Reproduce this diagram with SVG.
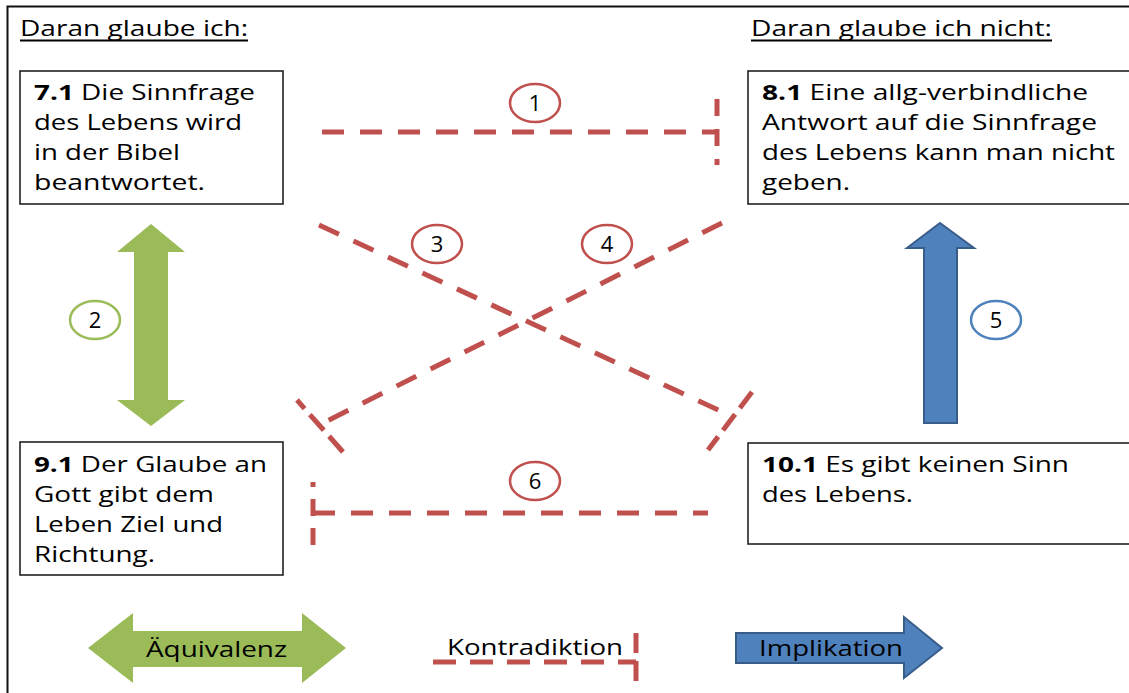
<svg xmlns="http://www.w3.org/2000/svg" width="1129" height="693" viewBox="0 0 1129 693">
<defs>
<style>
text{font-family:"Open Sans","Liberation Sans",sans-serif;font-size:22px;fill:#000}
.b{font-weight:bold}
.box{fill:#fff;stroke:#222;stroke-width:1.6}
.con{fill:none;stroke:#C0504D;stroke-width:5}
.h{stroke-dasharray:22 16}
.ul{stroke:#000;stroke-width:2}
.num{text-anchor:middle}
.cr{fill:#fff;stroke:#C0504D;stroke-width:2.5}
</style>
</defs>
<rect width="1129" height="693" fill="#fff"/>
<g id="frame" fill="none" stroke="#111" stroke-width="2">
<path d="M7.5 693V6.5H1129"/>
</g>
<g id="headings">
<text x="20" y="36" textLength="228" lengthAdjust="spacingAndGlyphs">Daran glaube ich:</text>
<line class="ul" x1="20" y1="40.5" x2="248" y2="40.5"/>
<text x="751" y="36" textLength="301" lengthAdjust="spacingAndGlyphs">Daran glaube ich nicht:</text>
<line class="ul" x1="751" y1="40.5" x2="1052" y2="40.5"/>
</g>
<g id="connectors">
<path class="con h" d="M322 132H717"/>
<path class="con" stroke-dasharray="17 13" d="M717 99V165"/>
<path class="con h" d="M319 225L727 414"/>
<path class="con" stroke-dasharray="20 8" d="M752 392L708 450"/>
<path class="con h" d="M722 223L323 423"/>
<path class="con" stroke-dasharray="21 8" d="M343 452L297 400"/>
<path class="con h" d="M313 513H708"/>
<path class="con" stroke-dasharray="17 12" d="M313 545V482"/>
<path id="equiv2" fill="#9BBB59" d="M151 224L185 252H168V400H185L151 426L117 400H134V252H117Z"/>
<path id="impl5" fill="#4F81BD" stroke="#385D8A" stroke-width="2" d="M940 223L974 248H957V423H924V248H907Z"/>
</g>
<g id="n71">
<rect class="box" x="20" y="71" width="263" height="133"/>
<text x="34" y="100" textLength="221" lengthAdjust="spacingAndGlyphs"><tspan class="b">7.1</tspan> Die Sinnfrage</text>
<text x="34" y="130" textLength="208" lengthAdjust="spacingAndGlyphs">des Lebens wird</text>
<text x="34" y="160" textLength="146" lengthAdjust="spacingAndGlyphs">in der Bibel</text>
<text x="34" y="190" textLength="171" lengthAdjust="spacingAndGlyphs">beantwortet.</text>
</g>
<g id="n81">
<rect class="box" x="748" y="71" width="390" height="133"/>
<text x="762" y="100" textLength="326" lengthAdjust="spacingAndGlyphs"><tspan class="b">8.1</tspan> Eine allg-verbindliche</text>
<text x="762" y="130" textLength="335" lengthAdjust="spacingAndGlyphs">Antwort auf die Sinnfrage</text>
<text x="762" y="160" textLength="353" lengthAdjust="spacingAndGlyphs">des Lebens kann man nicht</text>
<text x="762" y="190" textLength="88" lengthAdjust="spacingAndGlyphs">geben.</text>
</g>
<g id="n91">
<rect class="box" x="20" y="442" width="263" height="133"/>
<text x="34" y="472" textLength="233" lengthAdjust="spacingAndGlyphs"><tspan class="b">9.1</tspan> Der Glaube an</text>
<text x="34" y="502" textLength="180" lengthAdjust="spacingAndGlyphs">Gott gibt dem</text>
<text x="34" y="532" textLength="189" lengthAdjust="spacingAndGlyphs">Leben Ziel und</text>
<text x="34" y="562" textLength="121" lengthAdjust="spacingAndGlyphs">Richtung.</text>
</g>
<g id="n101">
<rect class="box" x="748" y="443" width="390" height="101"/>
<text x="762" y="472" textLength="307" lengthAdjust="spacingAndGlyphs"><tspan class="b">10.1</tspan> Es gibt keinen Sinn</text>
<text x="762" y="502" textLength="151" lengthAdjust="spacingAndGlyphs">des Lebens.</text>
</g>
<g id="label1"><ellipse class="cr" cx="535" cy="103" rx="25" ry="19"/><text class="num" x="535" y="111">1</text></g>
<g id="label2"><ellipse class="cr" style="stroke:#9BBB59" cx="95" cy="320" rx="25" ry="19"/><text class="num" x="95" y="328">2</text></g>
<g id="label3"><ellipse class="cr" cx="437" cy="244" rx="25" ry="19"/><text class="num" x="437" y="252">3</text></g>
<g id="label4"><ellipse class="cr" cx="607" cy="244" rx="25" ry="19"/><text class="num" x="607" y="252">4</text></g>
<g id="label5"><ellipse class="cr" style="stroke:#4F81BD" cx="996" cy="320" rx="25" ry="19"/><text class="num" x="996" y="328">5</text></g>
<g id="label6"><ellipse class="cr" cx="535" cy="481" rx="25" ry="19"/><text class="num" x="535" y="489">6</text></g>
<g id="legend">
<path fill="#9BBB59" d="M88 648L133 613V631H302V613L346 648L302 683V667H133V683Z"/>
<text x="146" y="657" textLength="141" lengthAdjust="spacingAndGlyphs">Äquivalenz</text>
<path class="con" stroke-dasharray="23 14" d="M433 662H636"/>
<path class="con" stroke-dasharray="20 8" d="M636 633V681"/>
<text x="447" y="655" textLength="176" lengthAdjust="spacingAndGlyphs">Kontradiktion</text>
<path fill="#4F81BD" stroke="#385D8A" stroke-width="2" d="M736 633H904V617L942 648L904 678V663H736Z"/>
<text x="759" y="656" textLength="144" lengthAdjust="spacingAndGlyphs">Implikation</text>
</g>
</svg>
